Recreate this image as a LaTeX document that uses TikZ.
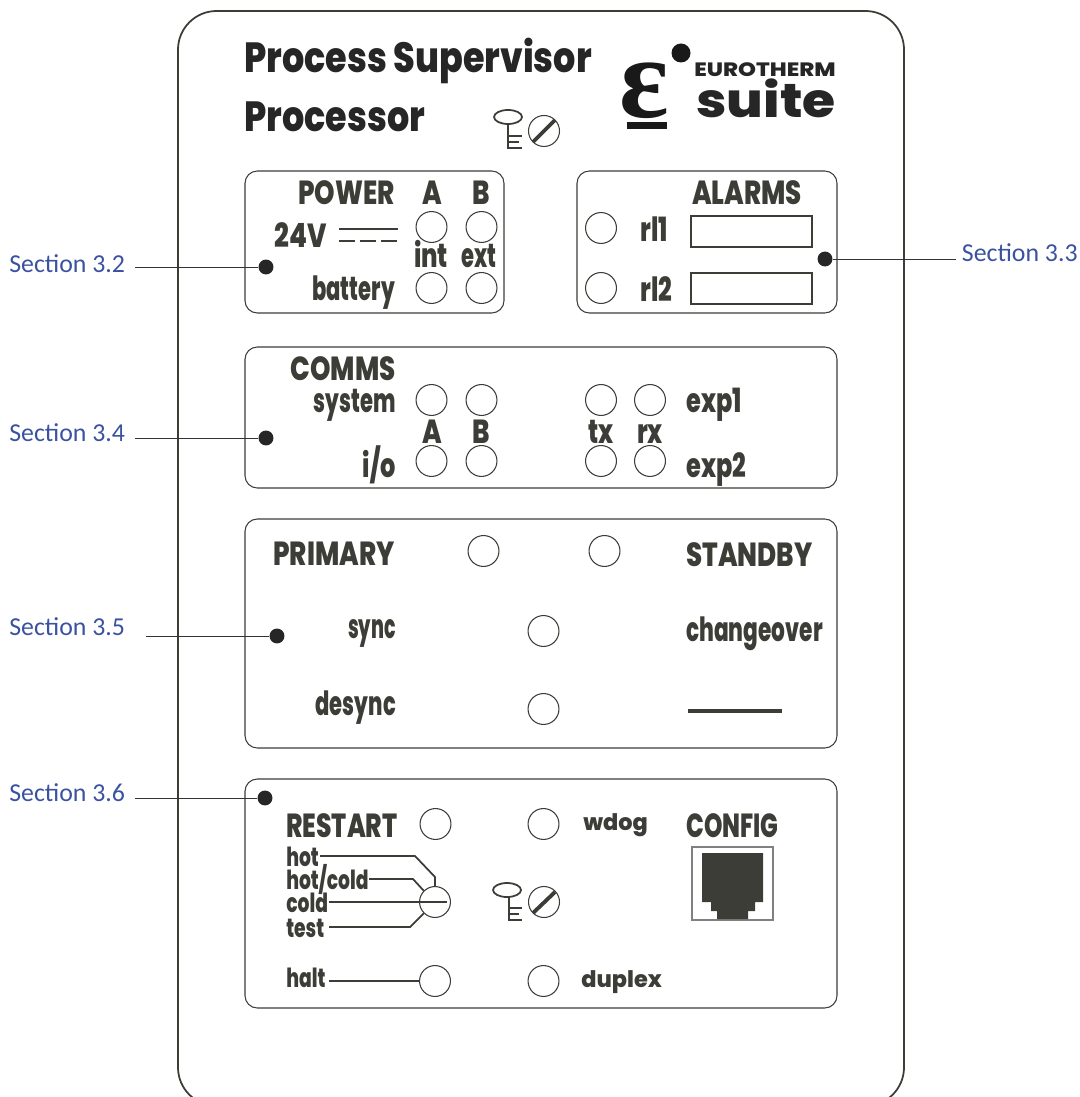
\documentclass[tikz,border=0pt]{standalone}
\usepackage{fontspec}
\setmainfont{Carlito}
\newfontfamily\panelfont{Poppins}[UprightFont=* ExtraBold]
\newfontfamily\logofont{Liberation Serif}
\definecolor{panelink}{HTML}{3C3D36}
\definecolor{sectionblue}{HTML}{3A52A0}
\tikzset{
    panel/.style={draw=panelink, line width=0.6pt, rounded corners=7pt},
    led/.style={draw=panelink, line width=0.6pt, circle, minimum size=17.6pt, inner sep=0pt},
    marker/.style={fill=black!85, circle, minimum size=8.5pt, inner sep=0pt},
    leader/.style={draw=black!80, line width=0.5pt},
    wire/.style={draw=panelink, line width=1pt},
    slot/.style={draw=panelink, line width=2.2pt},
    sectionlabel/.style={text=sectionblue, font=\fontsize{14.7}{15}\selectfont, inner sep=0pt},
    basetext/.style={text=panelink, font=\panelfont\fontsize{19}{19}\selectfont, inner sep=0pt},
    paneltext/.style={basetext, xscale=.72},
    capstext/.style={basetext, xscale=.78},
    narrowtext/.style={basetext, xscale=.63},
    smalltext/.style={basetext, font=\panelfont\fontsize{15}{15}\selectfont, xscale=.71},
    widetext/.style={basetext, font=\panelfont\fontsize{13}{13}\selectfont, xscale=.98},
    titletext/.style={text=black!85, font=\panelfont\fontsize{24}{24}\selectfont, inner sep=0pt},
}
\begin{document}
\begin{tikzpicture}[x=0.02cm, y=-0.02cm]
    \useasboundingbox (0, 0) rectangle (1079, 1097);
    % front plate
    \begin{scope}
        \clip (0, 0) rectangle (1079, 1097);
        \draw[panelink, line width=1pt, rounded corners=22pt] (178, 11) rectangle (904, 1106);
    \end{scope}
    % title
    \node[titletext, xscale=.83, anchor=base west] (titleSupervisor) at (244, 73) {Process Supervisor};
    \node[titletext, xscale=.83, anchor=base west] (titleProcessor) at (244, 132) {Processor};
    % logo
    \node[text=black!90, font=\logofont\bfseries\fontsize{66}{66}\selectfont, inner sep=0pt, anchor=base] (logoEpsilon) at (644, 118) {ε};
    \fill[black!90] (627, 122) rectangle (667, 129);
    \fill[black!90] (681, 53) circle (9.5);
    \node[titletext, anchor=base west, font=\panelfont\fontsize{11}{11}\selectfont, xscale=1.18] (logoEurotherm) at (694, 77) {EUROTHERM};
    \node[titletext, anchor=base west, font=\panelfont\fontsize{27}{27}\selectfont, xscale=1.13] (logoSuite) at (696, 118) {suite};
    % top key and screw
    \draw[wire] (508, 117) ellipse (14 and 7);
    \draw[wire] (508, 124) -- (508, 148) -- (522, 148) (508, 136) -- (522, 136) (508, 142) -- (519, 142);
    \draw[panelink, line width=0.6pt] (544, 131) circle (15.5);
    \draw[slot] (533, 142) -- (555, 120);
    % power
    \draw[panel] (245, 171) rectangle (504, 313);
    \node[capstext, anchor=base east] (txtPower) at (395, 205) {POWER};
    \node[capstext, anchor=base] (txtPowerA) at (432, 205) {A};
    \node[capstext, anchor=base] (txtPowerB) at (481, 205) {B};
    \node[capstext, anchor=base west] (txtVolt) at (274, 248) {24V};
    \draw[wire, line width=1.2pt] (339, 229) -- (398, 229);
    \draw[wire, line width=1.2pt, dash pattern=on 9.3pt off 2.6pt] (339, 241) -- (398, 241);
    \node[led] (ledPowerA) at (431.5, 227) {};
    \node[led] (ledPowerB) at (481.5, 227) {};
    \node[paneltext, anchor=base] (txtInt) at (431, 268) {int};
    \node[narrowtext, anchor=base] (txtExt) at (479, 268) {ext};
    \node[narrowtext, anchor=base east] (txtBattery) at (395, 301) {battery};
    \node[led] (ledBatteryInt) at (431.5, 288) {};
    \node[led] (ledBatteryExt) at (481.5, 288) {};
    % alarms
    \draw[panel] (577, 171) rectangle (837, 313);
    \node[capstext, anchor=base west] (txtAlarms) at (692, 205) {ALARMS};
    \node[led] (ledRelay1) at (601, 228) {};
    \node[led] (ledRelay2) at (601, 288) {};
    \node[paneltext, anchor=base west] (txtRelay1) at (640, 242) {rl1};
    \node[paneltext, anchor=base west] (txtRelay2) at (640, 302) {rl2};
    \draw[panelink, line width=0.6pt] (691, 216) rectangle (812, 247);
    \draw[panelink, line width=0.6pt] (691, 273) rectangle (812, 304);
    % comms
    \draw[panel] (245, 347) rectangle (837, 488);
    \node[capstext, anchor=base east] (txtComms) at (396, 381) {COMMS};
    \node[narrowtext, anchor=base east] (txtSystem) at (396, 413) {system};
    \node[paneltext, anchor=base east] (txtIo) at (396, 477) {i/o};
    \node[capstext, anchor=base] (txtCommsA) at (432, 443) {A};
    \node[capstext, anchor=base] (txtCommsB) at (481, 443) {B};
    \node[paneltext, anchor=base] (txtTx) at (601, 443) {tx};
    \node[paneltext, anchor=base] (txtRx) at (650, 443) {rx};
    \node[paneltext, anchor=base west] (txtExp1) at (686, 413) {exp1};
    \node[paneltext, anchor=base west] (txtExp2) at (686, 477) {exp2};
    \node[led] (ledSystemA) at (431.5, 400) {};
    \node[led] (ledSystemB) at (481.5, 400) {};
    \node[led] (ledExp1Tx) at (601, 400) {};
    \node[led] (ledExp1Rx) at (650, 400) {};
    \node[led] (ledIoA) at (431.5, 461) {};
    \node[led] (ledIoB) at (481.5, 461) {};
    \node[led] (ledExp2Tx) at (601, 461) {};
    \node[led] (ledExp2Rx) at (650, 461) {};
    % primary and standby
    \draw[panel] (245, 519) rectangle (837, 748);
    \node[capstext, anchor=base west] (txtPrimary) at (273, 565) {PRIMARY};
    \node[capstext, anchor=base west] (txtStandby) at (686, 566) {STANDBY};
    \node[narrowtext, xscale=.9, anchor=base east] (txtSync) at (396, 638) {sync};
    \node[narrowtext, anchor=base east] (txtDesync) at (396, 715) {desync};
    \node[narrowtext, xscale=1.03, anchor=base west] (txtChangeover) at (686, 641) {changeover};
    \draw[wire, line width=2pt] (688, 711) -- (782, 711);
    \node[led] (ledPrimary) at (483.5, 551) {};
    \node[led] (ledStandby) at (604.5, 551) {};
    \node[led] (ledSync) at (543.5, 631) {};
    \node[led] (ledDesync) at (543.5, 709) {};
    % restart
    \draw[panel] (245, 779) rectangle (837, 1008);
    \node[capstext, xscale=.96, anchor=base west] (txtRestart) at (286, 837) {RESTART};
    \node[smalltext, anchor=base west] (txtHot) at (286, 866) {hot};
    \node[smalltext, anchor=base west] (txtHotCold) at (286, 889) {hot/cold};
    \node[smalltext, anchor=base west] (txtCold) at (286, 912) {cold};
    \node[smalltext, anchor=base west] (txtTest) at (286, 937) {test};
    \node[smalltext, anchor=base west] (txtHalt) at (286, 987) {halt};
    \node[widetext, anchor=base west] (txtWdog) at (583, 830) {wdog};
    \node[widetext, anchor=base west] (txtDuplex) at (581, 987) {duplex};
    \node[capstext, xscale=.9, anchor=base west] (txtConfig) at (686, 837) {CONFIG};
    \node[led] (ledRestart) at (435.5, 824) {};
    \node[led] (ledWdog) at (543.5, 824) {};
    \node[led] (knobRestart) at (435, 902) {};
    \node[led] (ledHalt) at (435, 981) {};
    \node[led] (ledDuplex) at (543.5, 981) {};
    % knob wires
    \coordinate (wireHot) at (320, 856);
    \coordinate (wireHotCold) at (369, 879);
    \coordinate (wireCold) at (329, 902);
    \coordinate (wireTest) at (329, 927);
    \coordinate (wireHalt) at (329, 981);
    \coordinate (knobEnd) at (447, 902);
    \draw[wire] (wireHot) -- (415, 856) -- (435, 877) -- (knobRestart.north);
    \draw[wire] (wireHotCold) -- (413, 879) -- (knobRestart.135);
    \draw[wire] (wireCold) -- (knobEnd);
    \draw[wire] (wireTest) -- (410, 927) -- (knobRestart.225);
    \draw[wire] (wireHalt) -- (ledHalt.west);
    % bottom key and screw
    \draw[wire] (507, 890) ellipse (14 and 7);
    \draw[wire] (509, 897) -- (509, 920) -- (522, 920) (509, 908) -- (522, 908) (509, 914) -- (519, 914);
    \draw[panelink, line width=0.6pt] (544, 902) circle (15.5);
    \draw[slot] (533, 913) -- (555, 892);
    % config socket
    \draw[black!50, line width=0.6pt] (692, 847) rectangle (773, 920);
    \fill[panelink] (702, 853) -- (763, 853) -- (763, 902) -- (755, 902) -- (755, 911) -- (748, 911) -- (748, 919) -- (717, 919) -- (717, 911) -- (711, 911) -- (711, 902) -- (702, 902) -- cycle;
    % section markers
    \node[marker] (dotPower) at (266, 267) {};
    \node[marker] (dotAlarms) at (825, 259) {};
    \node[marker] (dotComms) at (266, 438) {};
    \node[marker] (dotPrimary) at (277, 636) {};
    \node[marker] (dotRestart) at (265, 798) {};
    \node[sectionlabel, anchor=west] (secPower) at (9, 264) {Section 3.2};
    \node[sectionlabel, anchor=east] (secAlarms) at (1078, 253) {Section 3.3};
    \node[sectionlabel, anchor=west] (secComms) at (9, 433) {Section 3.4};
    \node[sectionlabel, anchor=west] (secPrimary) at (9, 627) {Section 3.5};
    \node[sectionlabel, anchor=west] (secRestart) at (9, 793) {Section 3.6};
    \coordinate (leadPower) at (135, 267);
    \coordinate (leadAlarms) at (956, 259);
    \coordinate (leadComms) at (135, 438);
    \coordinate (leadPrimary) at (146, 636);
    \coordinate (leadRestart) at (135, 798);
    \draw[leader] (leadPower) -- (dotPower);
    \draw[leader] (leadAlarms) -- (dotAlarms);
    \draw[leader] (leadComms) -- (dotComms);
    \draw[leader] (leadPrimary) -- (dotPrimary);
    \draw[leader] (leadRestart) -- (dotRestart);
\end{tikzpicture}
\end{document}
